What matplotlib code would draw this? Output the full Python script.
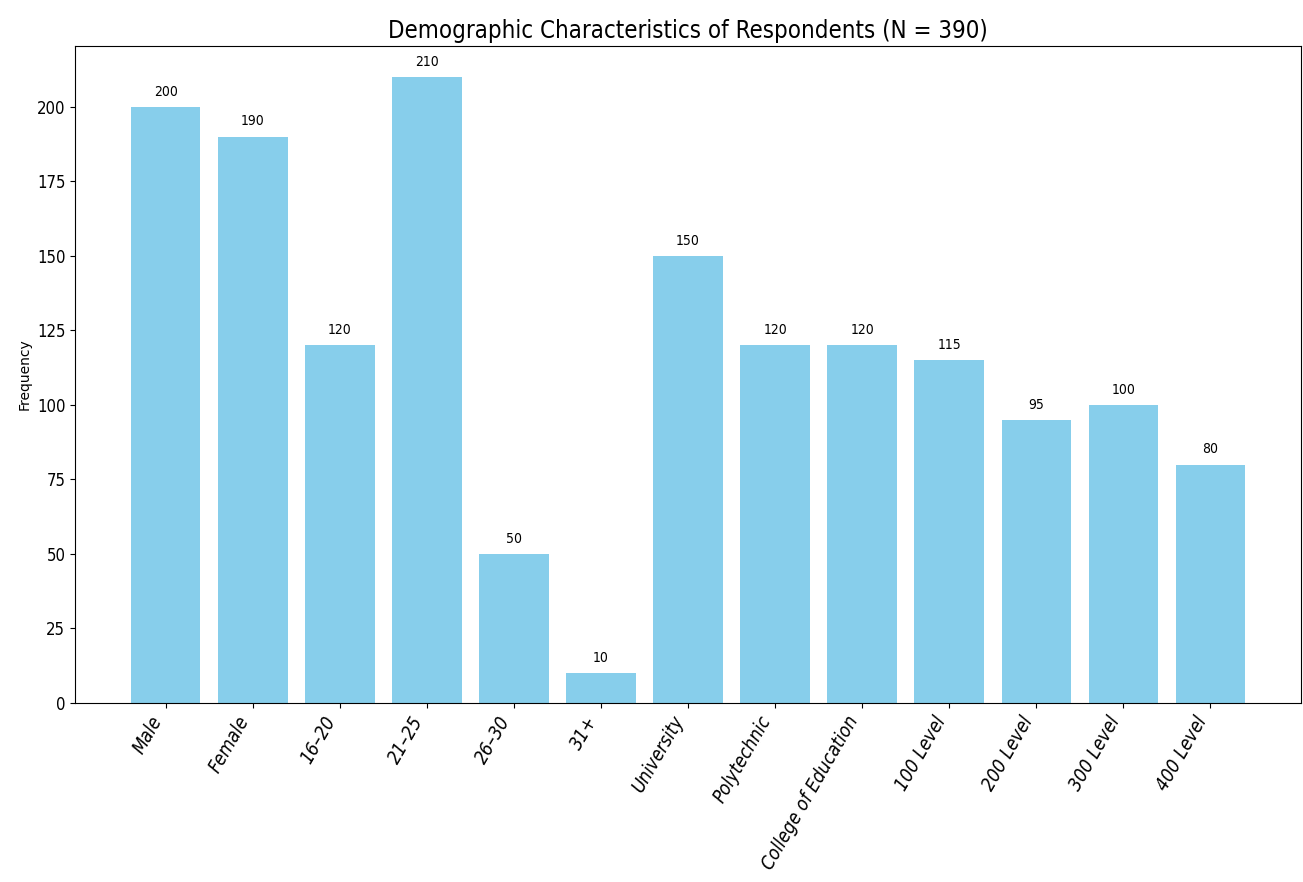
import matplotlib.pyplot as plt

categories = ["Male", "Female", "16–20", "21–25", "26–30", "31+",
              "University", "Polytechnic", "College of Education",
              "100 Level", "200 Level", "300 Level", "400 Level"]
frequency = [200, 190, 120, 210, 50, 10, 150, 120, 120, 115, 95, 100, 80]

fig, ax = plt.subplots(figsize=(13.03, 8.82), dpi=100)
fig.subplots_adjust(left=0.0576, right=0.9985, top=0.948, bottom=0.203)

bars = ax.bar(categories, frequency, color="skyblue")
for b, v in zip(bars, frequency):
    ax.annotate(str(v), (b.get_x() + b.get_width() / 2, v),
                xytext=(0, 6), textcoords="offset points",
                ha="center", va="bottom", fontsize=10, fontstretch="condensed")

ax.set_title("Demographic Characteristics of Respondents (N = 390)", fontsize=17.2,
             fontstretch="condensed")
ax.set_ylabel("Frequency", fontsize=10)
plt.xticks(rotation=60, ha="right", fontsize=13.5, style="italic", fontstretch="condensed")
plt.yticks(fontsize=12, fontstretch="condensed")

plt.savefig("out.png")
